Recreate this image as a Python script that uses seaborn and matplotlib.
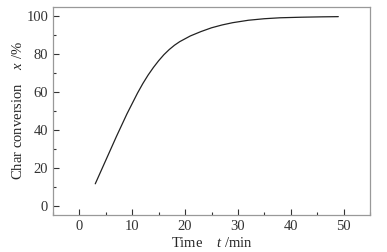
import numpy as np
import pandas as pd
import matplotlib
matplotlib.use('Agg')
import matplotlib.pyplot as plt
from matplotlib.ticker import MultipleLocator
import seaborn as sns

# 读出的曲线点 (t /min, x /%)
time_min = [3, 5, 7, 9, 10, 11, 12, 13, 14, 15, 16, 17, 18, 19, 21, 23, 25, 27, 29, 32, 35, 38, 42, 46, 49]
conversion = [11.5, 24, 36.5, 48.5, 54, 59.5, 64.5, 69, 73, 76.6, 79.8, 82.5, 84.8, 86.7, 89.7,
              92, 94, 95.5, 96.7, 98, 98.8, 99.3, 99.6, 99.8, 99.9]

x_ticks = [0, 10, 20, 30, 40, 50]
y_ticks = [0, 20, 40, 60, 80, 100]

df = pd.DataFrame({"t": time_min, "x": conversion})

sns.set_style("ticks")
plt.rcParams['font.family'] = ['Liberation Serif', 'DejaVu Serif']
plt.rcParams['mathtext.fontset'] = 'custom'
plt.rcParams['mathtext.rm'] = 'Liberation Serif'
plt.rcParams['mathtext.it'] = 'Liberation Serif:italic'

fig = plt.figure(figsize=(3.87, 2.52), dpi=100)
ax = fig.add_axes([53 / 387, 1 - 215 / 252, (370 - 53) / 387, (215 - 7) / 252])

sns.lineplot(data=df, x="t", y="x", ax=ax, color="#222222", linewidth=0.9)

ax.set_xlim(-5, 55)
ax.set_ylim(-5, 105)
ax.set_xticks(x_ticks)
ax.set_yticks(y_ticks)
ax.xaxis.set_minor_locator(MultipleLocator(5))
ax.yaxis.set_minor_locator(MultipleLocator(10))
ax.tick_params(which='both', direction='in', labelsize=10.5, colors='#333333')
ax.tick_params(which='major', length=4, width=0.8)
ax.tick_params(which='minor', length=2.5, width=0.8)

for sp in ax.spines.values():
    sp.set_visible(True)
    sp.set_color('#999999')
    sp.set_linewidth(0.9)

ax.set_xlabel("Time    $t$ /min", fontsize=10.5, labelpad=2)
ax.set_ylabel("Char conversion    $x$ /%", fontsize=10.5, labelpad=1)

fig.savefig("out.png", dpi=100)
